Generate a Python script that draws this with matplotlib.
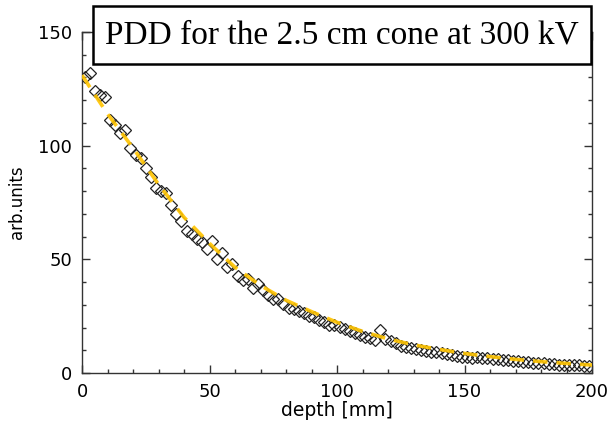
#### ライブラリのインポート ####
import numpy as np
import matplotlib.pyplot as plt
from matplotlib.patches import Rectangle

#### データ ####
# 測定点 (depth [mm], arb.units)
depth = np.arange(1, 200, 2)
dose = [130.0, 132.0, 124.0, 122.5, 121.5, 111.5, 109.0, 105.5, 107.0, 99.0,
        96.0, 94.5, 90.0, 86.0, 81.5, 80.0, 79.0, 74.0, 70.0, 67.0,
        62.5, 61.0, 59.0, 57.5, 54.5, 58.0, 50.0, 53.0, 46.5, 48.0,
        42.5, 41.0, 41.5, 37.5, 39.0, 36.5, 34.5, 32.7, 32.5, 30.5,
        28.5, 28.0, 27.3, 26.5, 25.0, 24.5, 23.3, 22.5, 21.3, 21.0,
        20.2, 19.5, 18.3, 17.4, 16.8, 16.0, 15.3, 14.5, 18.9, 15.0,
        14.0, 13.0, 12.0, 11.5, 11.0, 10.7, 10.1, 9.8, 9.3, 9.2,
        8.9, 8.4, 8.0, 7.6, 7.2, 6.9, 6.8, 6.9, 6.5, 6.4,
        6.3, 6.0, 5.7, 5.5, 5.3, 5.1, 4.8, 4.7, 4.5, 4.3,
        4.2, 4.0, 3.8, 3.7, 3.6, 3.5, 3.5, 3.3, 3.2, 3.0]

# フィット曲線
fit_depth = [0, 10, 20, 30, 40, 50, 60, 70, 80, 90, 100,
             110, 120, 130, 140, 150, 160, 170, 180, 190, 200]
fit_dose = [131.0, 114.0, 99.0, 83.0, 68.5, 57.0, 46.5, 38.5, 32.0, 27.0, 22.3,
            18.3, 15.0, 12.4, 10.4, 8.6, 7.2, 6.0, 5.0, 4.2, 3.5]

title = "PDD for the 2.5 cm cone at 300 kV"

#### 図の作成 ####
fig = plt.figure(figsize=(6.13, 4.30), dpi=100)
ax = fig.add_axes([82 / 613, 57 / 430, 510 / 613, 341 / 430])

ax.plot(depth, dose, ls="none", marker="D", ms=5.8, mfc="none",
        mec="#222222", mew=0.9, zorder=2)
ax.plot(fit_depth, fit_dose, color="#FFC400", lw=2.6, ls=(0, (4, 2.5)),
        alpha=0.9, zorder=3)

# 軸の設定
ax.set_xlim(0, 200)
ax.set_ylim(0, 150)
ax.set_xticks([0, 50, 100, 150, 200])
ax.set_yticks([0, 50, 100, 150])
ax.set_xticks(np.arange(0, 201, 10), minor=True)
ax.set_yticks(np.arange(0, 151, 10), minor=True)
ax.tick_params(which="both", direction="in", top=True, right=True,
               labelsize=13, width=1, color="#333333")
ax.tick_params(which="major", length=6, pad=7)
ax.tick_params(which="minor", length=3)
for s in ax.spines.values():
    s.set_color("#333333")
    s.set_linewidth(1)

ax.set_xlabel("depth [mm]", fontsize=13.5, labelpad=0)
ax.set_ylabel("arb.units", fontsize=12, labelpad=9)

# タイトルの枠
fig.patches.append(Rectangle((93 / 613, 1 - 64 / 430), 498 / 613, 58 / 430,
                             transform=fig.transFigure, fc="white", ec="black",
                             lw=1.8, zorder=5))
fig.text(342 / 613, 1 - 35 / 430, title, ha="center", va="center",
         fontsize=24, family="Liberation Serif", zorder=6)

plt.savefig("out.png", dpi=100)
